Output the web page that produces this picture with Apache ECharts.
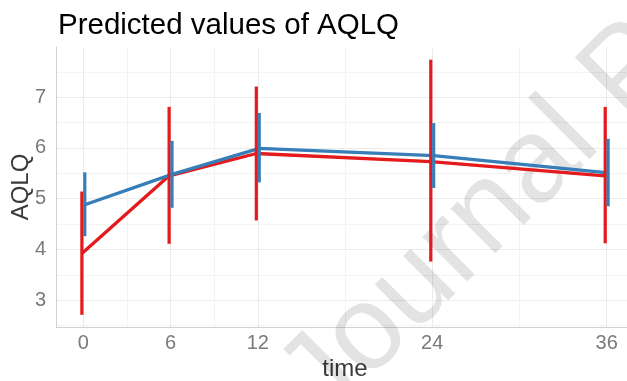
<!DOCTYPE html>
<html>
<head>
<meta charset="utf-8">
<script src="https://cdn.jsdelivr.net/npm/echarts@6/dist/echarts.min.js"></script>
<style>
html,body{margin:0;padding:0;background:#fff;}
#main{width:627px;height:381px;}
</style>
</head>
<body>
<div id="main"></div>
<script>
// data
var times = [0, 6, 12, 24, 36];
var redMean = [3.92, 5.45, 5.89, 5.73, 5.45];
var redLow  = [2.71, 4.11, 4.57, 3.76, 4.12];
var redHigh = [5.14, 6.81, 7.21, 7.74, 6.81];
var blueMean = [4.88, 5.48, 5.99, 5.85, 5.51];
var blueLow  = [4.26, 4.82, 5.32, 5.21, 4.85];
var blueHigh = [5.52, 6.14, 6.69, 6.49, 6.18];
var xLabels = [0, 6, 12, 24, 36];
var xGrid = [0, 3, 6, 9, 12, 18, 24, 30, 36];
var yLabels = [3, 4, 5, 6, 7];
var yGrid = [2.5, 3, 3.5, 4, 4.5, 5, 5.5, 6, 6.5, 7, 7.5];

var RED = '#E41A1C', BLUE = '#377EB8';
var DODGE = 0.1;
var FONT = "'Liberation Sans', Arial, sans-serif";

function linePts(mean, dx){
	return times.map(function(t, i){ return [t + dx, mean[i]]; });
}
function barPts(low, high, dx){
	return times.map(function(t, i){ return [t + dx, low[i], high[i]]; });
}
function errBar(color){
	return function(params, api){
		var p1 = api.coord([api.value(0), api.value(1)]);
		var p2 = api.coord([api.value(0), api.value(2)]);
		return {
			type: 'line',
			shape: {x1: p1[0], y1: p1[1], x2: p2[0], y2: p2[1]},
			style: {stroke: color, lineWidth: 3.2}
		};
	};
}

var myChart = echarts.init(document.getElementById('main'));
var option = {
	animation: false,
	backgroundColor: '#fff',
	title: {
		text: 'Predicted values of AQLQ',
		left: 53, top: 6,
		textStyle: {fontFamily: FONT, fontSize: 29.5, fontWeight: 'normal', color: '#000'}
	},
	grid: {left: 56, right: -7, top: 47, bottom: 54, outerBoundsMode: 'none', containLabel: false},
	graphic: [{
		type: 'text',
		x: 301, y: 401,
		rotation: Math.PI / 4,
		z: 1,
		silent: true,
		style: {
			text: 'Journal Pre-proof',
			font: '120px ' + FONT,
			fill: 'rgba(0,0,0,0.11)',
			textAlign: 'left',
			textVerticalAlign: 'middle'
		}
	}],
	xAxis: {
		type: 'value',
		min: -1.88, max: 37.88,
		name: 'time',
		nameLocation: 'middle',
		nameGap: 30,
		nameMoveOverlap: false,
		nameTextStyle: {fontFamily: FONT, fontSize: 24, color: '#3a3a3a'},
		axisLine: {show: true, onZero: false, lineStyle: {color: '#d0d0d0', width: 1}},
		axisTick: {show: false, customValues: xGrid},
		axisLabel: {customValues: xLabels, margin: 6, fontFamily: FONT, fontSize: 20, color: '#7a7a7a'},
		splitLine: {show: true, lineStyle: {color: ['#ebebeb', '#f3f3f3'], width: 1}}
	},
	yAxis: {
		type: 'value',
		min: 2.47, max: 7.99,
		name: 'AQLQ',
		nameLocation: 'middle',
		nameGap: 23,
		nameMoveOverlap: false,
		nameTextStyle: {fontFamily: FONT, fontSize: 24, color: '#3a3a3a'},
		axisLine: {show: true, onZero: false, lineStyle: {color: '#d0d0d0', width: 1}},
		axisTick: {show: false, customValues: yGrid},
		axisLabel: {customValues: yLabels, margin: 10, fontFamily: FONT, fontSize: 20, color: '#7a7a7a'},
		splitLine: {show: true, lineStyle: {color: ['#f3f3f3', '#ebebeb'], width: 1}}
	},
	series: [
		{type: 'line', data: linePts(redMean, -DODGE), showSymbol: false, lineStyle: {color: RED, width: 3.3}, z: 3},
		{type: 'line', data: linePts(blueMean, DODGE), showSymbol: false, lineStyle: {color: BLUE, width: 3.3}, z: 3},
		{type: 'custom', data: barPts(redLow, redHigh, -DODGE), renderItem: errBar(RED), encode: {x: 0, y: [1, 2]}, z: 4},
		{type: 'custom', data: barPts(blueLow, blueHigh, DODGE), renderItem: errBar(BLUE), encode: {x: 0, y: [1, 2]}, z: 5}
	]
};
myChart.setOption(option);
</script>
</body>
</html>
